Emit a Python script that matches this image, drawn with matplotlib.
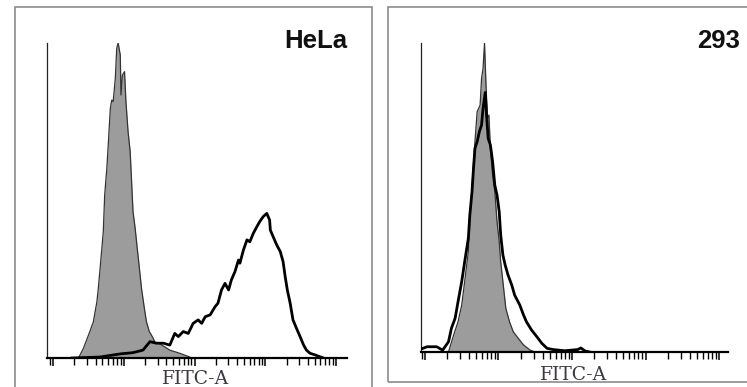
import numpy as np
import matplotlib.pyplot as plt
from matplotlib.patches import Rectangle
from matplotlib.ticker import LogLocator, NullFormatter

# histogram outlines: log10(FITC-A) and % of max count
hela_ctrl_log = [2.36, 2.43, 2.52, 2.57, 2.62, 2.64, 2.69, 2.71, 2.73, 2.76, 2.78,
                 2.81, 2.83, 2.85, 2.88, 2.90, 2.92, 2.95, 2.96, 2.98, 3.01, 3.03,
                 3.06, 3.09, 3.11, 3.13, 3.16, 3.19, 3.22, 3.25, 3.29, 3.32, 3.36,
                 3.41, 3.44, 3.51, 3.65, 3.79, 3.91, 3.96]
hela_ctrl_pct = [0, 3.1, 8.4, 11.5, 17.9, 22.1, 34.8, 40.1, 51.7, 60.2, 67.6,
                 79.3, 81.9, 81.4, 88.8, 98.3, 100, 96.2, 83.5, 89.8, 90.9, 81.4,
                 71.9, 65.5, 56.0, 46.5, 41.2, 34.8, 28.5, 22.1, 15.8, 11.5, 8.4,
                 6.5, 5.0, 4.5, 2.5, 1.5, 0.5, 0]

hela_stain_log = [2.27, 2.66, 2.95, 3.13, 3.27, 3.37, 3.46, 3.56, 3.65, 3.72, 3.77,
                  3.84, 3.91, 3.98, 4.05, 4.10, 4.15, 4.22, 4.29, 4.33, 4.38, 4.43,
                  4.48, 4.52, 4.57, 4.62, 4.64, 4.69, 4.74, 4.78, 4.83, 4.88, 4.92,
                  4.97, 5.02, 5.06, 5.07, 5.11, 5.16, 5.21, 5.25, 5.28, 5.31, 5.35,
                  5.39, 5.44, 5.49, 5.54, 5.58, 5.63, 5.70, 5.77, 5.82]
hela_stain_pct = [0, 0.3, 1.3, 1.7, 2.5, 5.2, 4.7, 4.7, 4.1, 7.8, 6.8,
                  8.4, 7.8, 11.0, 12.1, 11.0, 13.1, 13.7, 16.3, 17.4, 21.6, 23.7,
                  21.6, 24.8, 27.4, 31.1, 30.1, 34.3, 37.5, 36.9, 39.6, 41.7, 43.3,
                  44.9, 45.9, 43.8, 40.6, 38.5, 35.9, 33.8, 30.6, 25.8, 21.6, 17.4,
                  12.1, 9.4, 6.8, 4.1, 2.5, 1.5, 1.0, 0.4, 0]

h293_ctrl_log = [2.32, 2.39, 2.45, 2.50, 2.54, 2.59, 2.61, 2.65, 2.68, 2.71, 2.75,
                 2.77, 2.79, 2.81, 2.83, 2.85, 2.87, 2.89, 2.92, 2.95, 2.98, 3.01,
                 3.03, 3.07, 3.10, 3.15, 3.20, 3.27, 3.34, 3.43, 3.50]
h293_ctrl_pct = [0, 5.5, 9.8, 15.2, 22.8, 32.5, 42.2, 57.3, 68.1, 77.8, 79.9,
                 88.6, 91.8, 100, 86.4, 75.6, 76.7, 65.9, 57.3, 51.9, 42.2, 35.7,
                 29.2, 20.6, 14.1, 9.8, 6.6, 4.4, 2.3, 0.6, 0]

h293_stain_log = [1.95, 2.03, 2.16, 2.24, 2.32, 2.36, 2.41, 2.45, 2.50, 2.54, 2.59,
                  2.61, 2.64, 2.66, 2.68, 2.71, 2.74, 2.77, 2.79, 2.82, 2.84, 2.86,
                  2.89, 2.92, 2.95, 2.98, 3.01, 3.03, 3.06, 3.09, 3.13, 3.18, 3.22,
                  3.29, 3.34, 3.38, 3.45, 3.52, 3.59, 3.66, 3.74, 3.90, 4.08, 4.12,
                  4.18, 4.24]
h293_stain_pct = [1.0, 1.7, 1.7, 0.6, 3.3, 7.7, 10.9, 16.3, 22.8, 29.2, 36.8,
                  44.3, 51.9, 59.4, 65.9, 68.1, 71.3, 73.5, 78.9, 84.0, 75.6, 69.1,
                  67.0, 61.6, 54.0, 50.8, 45.4, 37.9, 31.4, 28.2, 24.9, 21.7, 18.4,
                  15.2, 12.0, 9.8, 7.1, 5.0, 2.8, 1.2, 0.8, 0.4, 0.8, 1.3,
                  0.3, 0]

panel_names = ['HeLa', '293']
x_label = 'FITC-A'

fig = plt.figure(figsize=(7.47, 3.87), dpi=100)
W, H = 747.0, 387.0

# grey panel frames
frame_color = '#8c8c8c'
fig.patches.append(Rectangle((15 / W, -0.02), 357 / W, 1 - 7 / H + 0.02,
                             transform=fig.transFigure, fill=False,
                             edgecolor=frame_color, lw=1.2))
fig.patches.append(Rectangle((388 / W, 5 / H), 370 / W, 1 - 12 / H,
                             transform=fig.transFigure, fill=False,
                             edgecolor=frame_color, lw=1.2))

# plot areas in pixels: (left, top, right, bottom)
boxes = [(47, 43, 347, 358), (421, 43, 728, 352)]
xlims = [(1.915, 6.153), (1.946, 6.122)]
label_pos = [(196, 379), (574, 375)]
title_right = [347, 740]
data = [
    (hela_ctrl_log, hela_ctrl_pct, hela_stain_log, hela_stain_pct),
    (h293_ctrl_log, h293_ctrl_pct, h293_stain_log, h293_stain_pct),
]

for i, (l, t, r, b) in enumerate(boxes):
    ax = fig.add_axes([l / W, 1 - b / H, (r - l) / W, (b - t) / H])
    c_log, c_pct, s_log, s_pct = data[i]
    cx = 10 ** np.array(c_log)
    sx = 10 ** np.array(s_log)

    ax.fill_between(cx, 0, c_pct, color='#9c9c9c', lw=0, zorder=2)
    ax.plot(cx, c_pct, color='#333333', lw=0.9, zorder=3)
    ax.plot(sx, s_pct, color='black', lw=2.0, zorder=4)

    ax.set_xscale('log')
    ax.set_xlim(10 ** xlims[i][0], 10 ** xlims[i][1])
    ax.set_ylim(0, 100)

    for side in ['top', 'right']:
        ax.spines[side].set_visible(False)
    ax.spines['left'].set_linewidth(0.9)
    ax.spines['left'].set_color('#222222')
    ax.spines['bottom'].set_linewidth(1.6)
    ax.spines['bottom'].set_zorder(5)

    ax.xaxis.set_major_locator(LogLocator(base=10, numticks=10))
    ax.xaxis.set_minor_locator(LogLocator(base=10, subs=np.arange(2, 10), numticks=20))
    ax.xaxis.set_major_formatter(NullFormatter())
    ax.xaxis.set_minor_formatter(NullFormatter())
    ax.tick_params(axis='x', which='major', direction='out', length=6, width=1.1)
    ax.tick_params(axis='x', which='minor', direction='out', length=5, width=1.0)
    ax.set_yticks([])
    ax.patch.set_alpha(0)

    fig.text(label_pos[i][0] / W, 1 - label_pos[i][1] / H, x_label,
             family='DejaVu Serif', fontsize=13.5, color='#3e3746',
             ha='center', va='center')
    fig.text(title_right[i] / W, 1 - 48 / H, panel_names[i],
             family='Liberation Sans', fontweight='bold', fontsize=18.5,
             color='#111111', ha='right', va='baseline')

fig.savefig('out.png', dpi=100)
